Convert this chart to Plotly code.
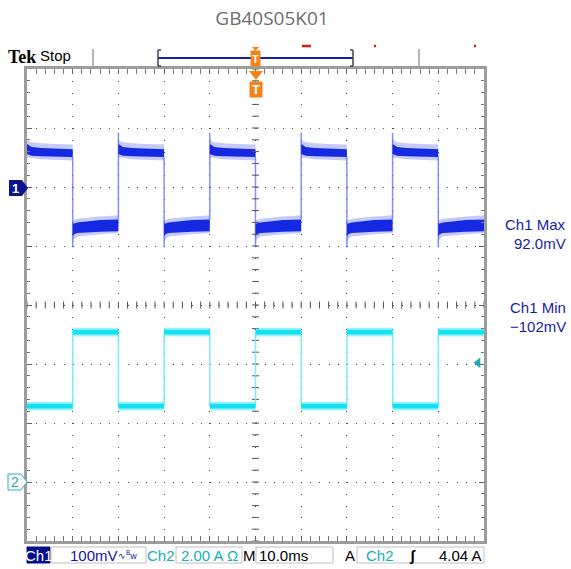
import plotly.graph_objects as go
import numpy as np

# ---------------- data ----------------
title_text = "GB40S05K01"
edges_ms = [0, 10, 20, 30, 40, 50, 60, 70, 80, 90, 100]   # switching instants
ch1_first_high = True          # Ch1 starts high, Ch2 starts low
ch1_max_mV = 92.0
ch1_min_mV = -102.0
# Ch1 envelope shape within one half period (offset from edge, ms)
ch1_profile_t_ms = [0, 0.3, 1.0, 3.0, 6.0, 10.0]
ch1_high_top_mV = [80, 78, 76, 74, 73, 72]
ch1_high_bot_mV = [48, 50, 49, 47, 46, 45]
ch1_high_core_top_mV = [73, 71, 68, 66, 65, 64]
ch1_high_core_bot_mV = [56, 55, 53, 52, 51, 51]
ch1_low_top_mV = [-56, -56, -54, -52, -50, -48]
ch1_low_bot_mV = [-95, -88, -84, -82, -80, -78]
ch1_low_core_top_mV = [-62, -62, -60, -58, -56, -55]
ch1_low_core_bot_mV = [-84, -80, -78, -77, -76, -75]
# Ch2 current levels (A)
ch2_high_A = 5.08
ch2_low_A = 2.57
ch2_noise_A = 0.15
ch2_core_A = 0.08
trigger_level_A = 4.04
trigger_time_ms = 50
# scale settings
ch1_scale_mV = 100
ch2_scale_A = 2.0
time_scale_ms = 10.0

# ---------------- geometry helpers ----------------
W, H = 571, 569
L, R, T, B = 27, 87, 69, 28
PW, PH = W - L - R, H - T - B


def px(x):
    return (x - L) / PW


def py(y):
    return (H - B - y) / PH


CH1 = "rgb(22,40,225)"
CH1_LIGHT = "rgba(60,80,245,0.3)"
CH1_EDGE = "rgba(90,110,255,0.75)"
CH2 = "rgb(20,225,240)"
CH2_LIGHT = "rgba(40,230,245,0.45)"
CH2_EDGE = "rgba(110,235,245,0.9)"
NARROW = "Liberation Sans, Arial, sans-serif"

fig = go.Figure()


def band(seg_start, tvals, top, bot):
    xs = [seg_start + t for t in tvals] + [seg_start + t for t in tvals[::-1]]
    ys = list(top) + list(bot[::-1])
    return xs + [xs[0], None], ys + [ys[0], None]


# ----- Ch1 -----
edge_x, edge_y = [], []
ox, oy, cx, cy = [], [], [], []
for i in range(len(edges_ms) - 1):
    s = edges_ms[i]
    high = (i % 2 == 0) == ch1_first_high
    if high:
        a = band(s, ch1_profile_t_ms, ch1_high_top_mV, ch1_high_bot_mV)
        b = band(s, ch1_profile_t_ms, ch1_high_core_top_mV, ch1_high_core_bot_mV)
    else:
        a = band(s, ch1_profile_t_ms, ch1_low_top_mV, ch1_low_bot_mV)
        b = band(s, ch1_profile_t_ms, ch1_low_core_top_mV, ch1_low_core_bot_mV)
    ox += a[0]; oy += a[1]; cx += b[0]; cy += b[1]
    if i > 0:
        if high:
            edge_x += [s, s, None]; edge_y += [ch1_low_core_top_mV[-1], ch1_max_mV, None]
        else:
            edge_x += [s, s, None]; edge_y += [ch1_high_core_bot_mV[-1], ch1_min_mV, None]

fig.add_trace(go.Scatter(x=edge_x, y=edge_y, mode="lines", line=dict(color=CH1_EDGE, width=1.5),
                         hoverinfo="skip"))
fig.add_trace(go.Scatter(x=ox, y=oy, mode="lines", fill="toself", fillcolor=CH1_LIGHT,
                         line=dict(width=0), hoverinfo="skip"))
fig.add_trace(go.Scatter(x=cx, y=cy, mode="lines", fill="toself", fillcolor=CH1,
                         line=dict(width=0), hoverinfo="skip"))

# ----- Ch2 -----
e2x, e2y, o2x, o2y, c2x, c2y = [], [], [], [], [], []
for i in range(len(edges_ms) - 1):
    s, e = edges_ms[i], edges_ms[i + 1]
    lvl = ch2_high_A if (i % 2 == 1) == ch1_first_high else ch2_low_A
    o2x += [s, e, e, s, s, None]
    o2y += [lvl + ch2_noise_A, lvl + ch2_noise_A, lvl - ch2_noise_A, lvl - ch2_noise_A, lvl + ch2_noise_A, None]
    c2x += [s, e, e, s, s, None]
    c2y += [lvl + ch2_core_A, lvl + ch2_core_A, lvl - ch2_core_A, lvl - ch2_core_A, lvl + ch2_core_A, None]
    if i > 0:
        e2x += [s, s, None]; e2y += [ch2_low_A, ch2_high_A, None]

fig.add_trace(go.Scatter(x=e2x, y=e2y, yaxis="y2", mode="lines", line=dict(color=CH2_EDGE, width=1.5),
                         hoverinfo="skip"))
fig.add_trace(go.Scatter(x=o2x, y=o2y, yaxis="y2", mode="lines", fill="toself", fillcolor=CH2_LIGHT,
                         line=dict(width=0), hoverinfo="skip"))
fig.add_trace(go.Scatter(x=c2x, y=c2y, yaxis="y2", mode="lines", fill="toself", fillcolor=CH2,
                         line=dict(width=0), hoverinfo="skip"))

# ----- center-line ticks of the graticule -----
xr = [0, 10 * time_scale_ms]
yr = [-6 * ch1_scale_mV, 2 * ch1_scale_mV]
yc = (yr[0] + yr[1]) / 2
xc = (xr[0] + xr[1]) / 2
tx = np.arange(xr[0], xr[1] + 1e-9, time_scale_ms / 5)
ty = np.arange(yr[0], yr[1] + 1e-9, ch1_scale_mV / 5)
fig.add_trace(go.Scatter(x=tx, y=[yc] * len(tx), mode="markers", hoverinfo="skip",
                         marker=dict(symbol="line-ns", size=5, line=dict(color="#555", width=1))))
fig.add_trace(go.Scatter(x=[xc] * len(ty), y=ty, mode="markers", hoverinfo="skip",
                         marker=dict(symbol="line-ew", size=5, line=dict(color="#555", width=1))))

# trigger level arrow (right side)
fig.add_trace(go.Scatter(x=[xr[1] - 1.3], y=[trigger_level_A], yaxis="y2", mode="markers", hoverinfo="skip",
                         marker=dict(symbol="triangle-left", size=9, color="rgb(25,170,180)")))

axis_common = dict(showgrid=True, gridcolor="#4a4a4a", gridwidth=1, zeroline=False,
                   showline=True, linecolor="#9c9c9c", linewidth=3, mirror="allticks",
                   ticks="inside", ticklen=5, tickcolor="#666", showticklabels=False, fixedrange=True)

fig.update_layout(
    width=W, height=H,
    margin=dict(l=L, r=R, t=T, b=B),
    paper_bgcolor="white", plot_bgcolor="white",
    showlegend=False,
    title=dict(text=title_text, x=272 / W, y=1 - 18 / H, xanchor="center", yanchor="middle",
               font=dict(family="Open Sans, sans-serif", size=19, color="#6e6e6e")),
    xaxis=dict(range=xr, dtick=time_scale_ms, griddash="1px,10.8px",
               minor=dict(dtick=time_scale_ms / 5, ticks="inside", ticklen=3, tickcolor="#777", showgrid=False),
               **axis_common),
    yaxis=dict(range=yr, dtick=ch1_scale_mV, griddash="1px,8.14px",
               minor=dict(dtick=ch1_scale_mV / 5, ticks="inside", ticklen=3, tickcolor="#777", showgrid=False),
               **axis_common),
    yaxis2=dict(range=[-1 * ch2_scale_A, 7 * ch2_scale_A], overlaying="y", visible=False, fixedrange=True),
)

shapes = []
ann = []


def text(x, y, s, size=14, color="black", family=NARROW, xanchor="center", **kw):
    ann.append(dict(x=px(x), y=py(y), xref="paper", yref="paper", text=s, showarrow=False,
                    xanchor=xanchor, yanchor="middle", font=dict(size=size, color=color, family=family), **kw))


def rect(x0, y0, x1, y1, line="#c0c0c0", fill=None, width=1):
    shapes.append(dict(type="rect", xref="paper", yref="paper", x0=px(x0), x1=px(x1), y0=py(y0), y1=py(y1),
                       line=dict(color=line, width=width), fillcolor=fill, layer="above"))


def line(x0, y0, x1, y1, color, width=1):
    shapes.append(dict(type="line", xref="paper", yref="paper", x0=px(x0), x1=px(x1), y0=py(y0), y1=py(y1),
                       line=dict(color=color, width=width)))


def poly(pts, fill, color=None, width=0):
    d = "M " + " L ".join(f"{px(a)},{py(b)}" for a, b in pts) + " Z"
    shapes.append(dict(type="path", xref="paper", yref="paper", path=d, fillcolor=fill,
                       line=dict(color=color or fill, width=width), layer="above"))


# ----- header -----
text(22, 57, "<b>Tek</b>", size=18, family="Liberation Serif, DejaVu Serif, serif")
text(55, 56, "Stop", size=15)
line(93, 49, 93, 68, "#a0a0a0", 1.5)
line(419, 49, 419, 68, "#a0a0a0", 1.5)
line(158, 58, 353, 58, "rgb(20,30,170)", 2)
for bx, d in ((158, 1), (353, -1)):
    line(bx, 50, bx, 66, "#444", 1.5)
    line(bx, 50, bx + 3 * d, 50, "#444", 1.5)
    line(bx, 66, bx + 3 * d, 66, "#444", 1.5)
# record-bar trigger marker
poly([(252, 47), (259, 47), (255.5, 51)], "rgb(245,130,20)")
rect(251, 51, 260, 66, line="rgb(245,130,20)", fill="rgb(245,130,20)")
text(255.5, 59, "<b>T</b>", size=11, color="white")
# red marks
line(302, 46, 311, 46, "rgb(225,20,20)", 2.5)
line(374, 46, 376, 46, "rgb(225,20,20)", 2.5)
line(474, 46, 476, 46, "rgb(225,20,20)", 2.5)
# trigger position marker at graticule top
poly([(249, 71), (263, 71), (256, 80)], "rgb(245,130,20)")
rect(250, 82, 262, 97, line="rgb(245,130,20)", fill="rgb(245,130,20)")
text(256, 89.5, "<b>T</b>", size=13, color="white")

# ----- channel ground markers -----
poly([(9, 180), (22, 180), (28, 188), (22, 196), (9, 196)], "rgb(10,20,140)")
text(15, 188, "<b>1</b>", size=13, color="white")
poly([(8, 474), (21, 474), (27, 482), (21, 490), (8, 490)], "white", color="rgb(30,180,185)", width=1)
text(14.5, 482, "2", size=14, color="rgb(30,170,175)")

# ----- measurement readouts -----
MEAS = "rgb(25,30,160)"
text(568, 224, "Ch1 Max", size=15, color=MEAS, xanchor="right")
text(568, 243, "92.0mV", size=15, color=MEAS, xanchor="right")
text(568, 307, "Ch1 Min", size=15, color=MEAS, xanchor="right")
text(568, 326, "\u2212102mV", size=15, color=MEAS, xanchor="right")

# ----- status bar -----
SY = 555
rect(27, 547, 50, 563, line="rgb(5,15,140)", fill="rgb(5,15,140)")
text(38.5, SY, "Ch1", size=15, color="white")
rect(51, 547, 146, 563)
text(94, SY, "100mV", size=15, color="rgb(20,20,160)")
text(127, SY, "\u223f<sup>B</sup>w", size=9, color="rgb(20,20,160)")
text(161, SY, "Ch2", size=15, color="rgb(20,175,185)")
rect(176, 547, 242, 563)
text(209, SY, "2.00 A \u03a9", size=15, color="rgb(20,175,185)")
text(249.5, SY, "M", size=15, color="black")
rect(256, 547, 333, 563)
text(283, SY, "10.0ms", size=15, color="black")
text(350, SY, "A", size=15, color="black")
rect(357, 547, 484, 563)
text(380, SY, "Ch2", size=15, color="rgb(20,175,185)")
text(412, SY, "<b>\u0283</b>", size=15, color="black")
text(460, SY, "4.04 A", size=15, color="black")

fig.update_layout(shapes=shapes, annotations=ann)
fig.write_html("out.html", config={"displayModeBar": False},
               post_script="document.body.style.margin='0';document.body.style.padding='0';")
